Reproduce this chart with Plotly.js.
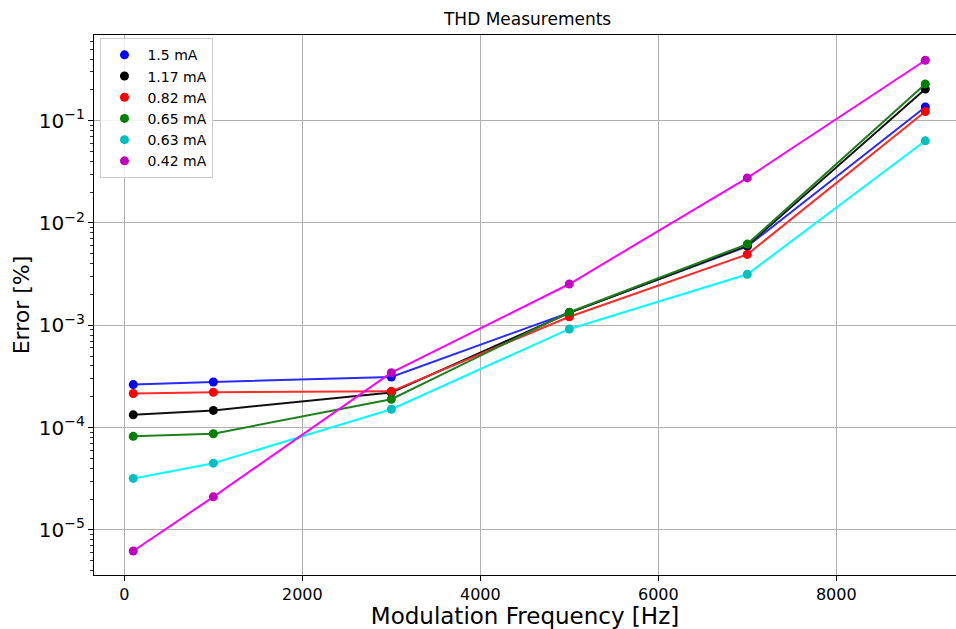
<!DOCTYPE html>
<html>
<head>
<meta charset="utf-8">
<script src="https://cdn.plot.ly/plotly-3.0.1.min.js"></script>
<style>
html,body{margin:0;padding:0;overflow:hidden;background:#fff;}
#chart{width:956px;height:629px;}
</style>
</head>
<body>
<div id="chart"></div>
<script>
// Modulation frequency [Hz]
const freq = [100, 1000, 3000, 5000, 7000, 9000];

// Series labels
const labels = ["1.5 mA", "1.17 mA", "0.82 mA", "0.65 mA", "0.63 mA", "0.42 mA"];

// THD error values [%]
const err_1_5  = [2.63e-4, 2.79e-4, 3.12e-4, 1.33e-3, 5.9e-3, 0.136];
const err_1_17 = [1.33e-4, 1.47e-4, 2.20e-4, 1.32e-3, 6.0e-3, 0.204];
const err_0_82 = [2.15e-4, 2.21e-4, 2.26e-4, 1.21e-3, 4.93e-3, 0.123];
const err_0_65 = [8.2e-5, 8.7e-5, 1.89e-4, 1.34e-3, 6.22e-3, 0.229];
const err_0_63 = [3.18e-5, 4.48e-5, 1.51e-4, 9.2e-4, 3.15e-3, 0.0636];
const err_0_42 = [6.2e-6, 2.1e-5, 3.44e-4, 2.53e-3, 2.76e-2, 0.39];

const seriesValues = [err_1_5, err_1_17, err_0_82, err_0_65, err_0_63, err_0_42];
const markerColors = ["#0000ff", "#000000", "#ff0000", "#008000", "#00bfbf", "#bf00bf"];
const lineColors   = ["#2a2aff", "#111111", "#ff2a2a", "#1f7f1f", "#00ffff", "#ff00ff"];

const traces = [];
seriesValues.forEach((vals, i) => {
  traces.push({
    x: freq, y: vals, type: "scatter", mode: "lines",
    line: {color: lineColors[i], width: 2},
    showlegend: false, hoverinfo: "skip"
  });
  traces.push({
    x: freq, y: vals, type: "scatter", mode: "markers",
    name: labels[i],
    marker: {color: markerColors[i], size: 9}
  });
});

const font = {family: "DejaVu Sans, sans-serif", color: "#000"};

const layout = {
  width: 956, height: 629,
  margin: {l: 94, r: 0, t: 35, b: 54, pad: 0},
  paper_bgcolor: "#fff", plot_bgcolor: "#fff",
  font: font,
  title: {
    text: "THD Measurements",
    font: {family: font.family, size: 17, color: "#000"},
    x: 0.503, xref: "paper", xanchor: "center",
    y: 1 - 19/629, yref: "container", yanchor: "middle"
  },
  xaxis: {
    range: [-341, 9345],
    tickvals: [0, 2000, 4000, 6000, 8000],
    ticktext: ["0", "2000", "4000", "6000", "8000"],
    ticks: "outside", ticklen: 5, tickwidth: 1, tickcolor: "#000",
    showline: true, linecolor: "#000", linewidth: 1, mirror: true,
    showgrid: true, gridcolor: "#b0b0b0", gridwidth: 1,
    zeroline: false,
    tickfont: {family: font.family, size: 16, color: "#000"},
    title: {text: "Modulation Frequency [Hz]", font: {family: font.family, size: 23, color: "#000"}, standoff: 8}
  },
  yaxis: {
    type: "log",
    range: [-5.442, -0.162],
    dtick: 1,
    exponentformat: "power",
    ticks: "outside", ticklen: 5, tickwidth: 1, tickcolor: "#000",
    minor: {ticks: "outside", ticklen: 3, tickcolor: "#000", tickwidth: 0.8, showgrid: false, dtick: "D1"},
    showline: true, linecolor: "#000", linewidth: 1, mirror: false,
    showgrid: true, gridcolor: "#b0b0b0", gridwidth: 1,
    zeroline: false,
    tickfont: {family: font.family, size: 16, color: "#000"},
    title: {text: "Error [%]", font: {family: font.family, size: 22, color: "#000"}, standoff: 3}
  },
  legend: {
    x: 0.0075, y: 0.994, xanchor: "left", yanchor: "top",
    bgcolor: "rgba(255,255,255,0.85)", bordercolor: "#cccccc", borderwidth: 1,
    itemwidth: 36,
    font: {family: font.family, size: 14, color: "#000"}
  },
  showlegend: true
};

Plotly.newPlot("chart", traces, layout, {displayModeBar: false, staticPlot: true});
</script>
</body>
</html>
